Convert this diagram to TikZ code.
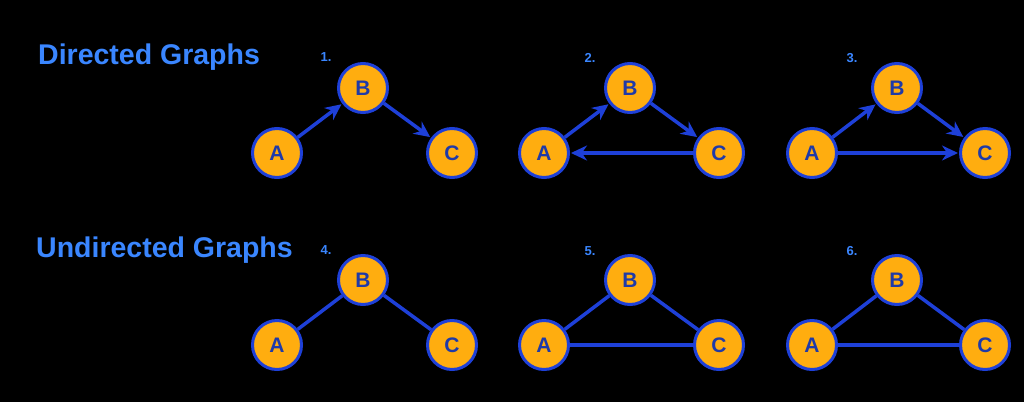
\documentclass[tikz,border=0pt]{standalone}
\usepackage{fontspec}
\setmainfont{Liberation Sans}
\usetikzlibrary{arrows.meta}
\definecolor{bg}{HTML}{000000}
\definecolor{ttl}{HTML}{3A86FF}
\definecolor{nfill}{HTML}{FFAD0F}
\definecolor{nline}{HTML}{1E40D8}
\definecolor{ntext}{HTML}{1F3AA8}
\definecolor{edge}{HTML}{1E40D8}
\tikzset{
  vtx/.style={circle,draw=nline,line width=3pt,fill=nfill,minimum size=49pt,inner sep=0pt,
    text=ntext,font=\fontsize{21}{21}\selectfont\bfseries},
  ttlstyle/.style={text=ttl,font=\fontsize{28.5}{28.5}\selectfont\bfseries,anchor=west,inner sep=0pt},
  numstyle/.style={text=ttl,font=\fontsize{13}{13}\selectfont\bfseries,inner sep=0pt},
  dedge/.style={draw=edge,line width=3.5pt,-{Stealth[length=16pt,width=15pt]},shorten >=1pt},
  uedge/.style={draw=edge,line width=3.5pt},
}
\begin{document}
\begin{tikzpicture}[x=1pt,y=-1pt]
\fill[bg] (0,0) rectangle (1024,402);
\useasboundingbox (0,0) rectangle (1024,402);
\node[ttlstyle] (t1) at (38,57) {Directed Graphs};
\node[ttlstyle] (t2) at (36,250) {Undirected Graphs};
% directed
\foreach \i/\xa/\xb/\xc in {1/277/363/452, 2/544/630/719, 3/812/897/985}{
  \node[vtx] (A\i) at (\xa,153) {A};
  \node[vtx] (B\i) at (\xb,88) {B};
  \node[vtx] (C\i) at (\xc,153) {C};
}
\node[numstyle] (n1) at (326,57) {1.};
\node[numstyle] (n2) at (590,58) {2.};
\node[numstyle] (n3) at (852,58) {3.};
\draw[dedge] (A1) -- (B1);
\draw[dedge] (B1) -- (C1);
\draw[dedge] (A2) -- (B2);
\draw[dedge] (B2) -- (C2);
\draw[dedge] (C2) -- (A2);
\draw[dedge] (A3) -- (B3);
\draw[dedge] (B3) -- (C3);
\draw[dedge] (A3) -- (C3);
% undirected
\foreach \i/\xa/\xb/\xc in {4/277/363/452, 5/544/630/719, 6/812/897/985}{
  \node[vtx] (A\i) at (\xa,345) {A};
  \node[vtx] (B\i) at (\xb,280) {B};
  \node[vtx] (C\i) at (\xc,345) {C};
}
\node[numstyle] (n4) at (326,250) {4.};
\node[numstyle] (n5) at (590,251) {5.};
\node[numstyle] (n6) at (852,251) {6.};
\draw[uedge] (A4) -- (B4);
\draw[uedge] (B4) -- (C4);
\draw[uedge] (A5) -- (B5);
\draw[uedge] (B5) -- (C5);
\draw[uedge] (A5) -- (C5);
\draw[uedge] (A6) -- (B6);
\draw[uedge] (B6) -- (C6);
\draw[uedge] (A6) -- (C6);
\end{tikzpicture}
\end{document}
